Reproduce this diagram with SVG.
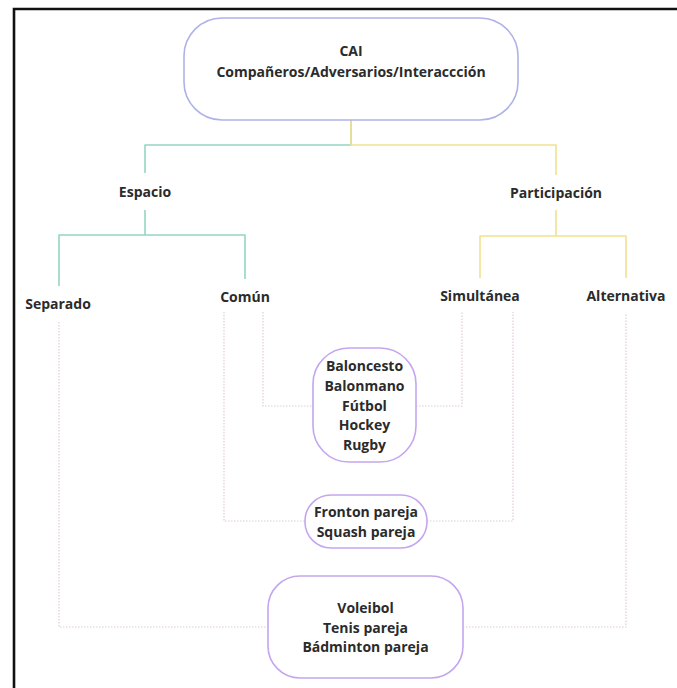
<svg xmlns="http://www.w3.org/2000/svg" width="677" height="688" viewBox="0 0 677 688">
<style>
.t{font-family:"Open Sans","Noto Sans","Liberation Sans",sans-serif;font-weight:bold;font-size:14px;fill:#2b2b2b;text-anchor:middle}
.box{fill:#fff;stroke:#c4a6ee;stroke-width:1.6}
.top{fill:#fff;stroke:#aeb2e8;stroke-width:1.6}
.g{fill:none;stroke:#95d5c4;stroke-width:1.6;stroke-linejoin:round}
.y{fill:none;stroke:#f3e08f;stroke-width:1.6;stroke-linejoin:round}
.d{fill:none;stroke:#e0cbdc;stroke-width:1.2;stroke-dasharray:1.5 1.5}
</style>
<rect width="677" height="688" fill="#fff"/>
<path d="M14 688 V9 H677" fill="none" stroke="#111" stroke-width="2.6"/>
<g id="connectors">
<path class="g" d="M351 120 V145 H145 V173"/>
<path class="y" d="M351 120 V145 H556 V175"/>
<path class="g" d="M145 210 V235 M59 286 V235 H245 V279"/>
<path class="y" d="M556 210 V236 M480 278 V236 H626 V278"/>
<path class="d" d="M263 312 V406 H313 M416 406 H462 V312"/>
<path class="d" d="M224 312 V521 H305 M427 521 H513 V312"/>
<path class="d" d="M59 322 V627 H268 M463 627 H626 V313"/>
</g>
<g id="cai">
<rect class="top" x="184" y="18" width="334" height="102" rx="38"/>
<text class="t" x="351" y="56">CAI</text>
<text class="t" x="351" y="77">Compañeros/Adversarios/Interaccción</text>
</g>
<g id="espacio"><text class="t" x="145" y="197">Espacio</text></g>
<g id="participacion"><text class="t" x="556" y="198">Participación</text></g>
<g id="separado"><text class="t" x="58" y="309">Separado</text></g>
<g id="comun"><text class="t" x="245" y="302">Común</text></g>
<g id="simultanea"><text class="t" x="480" y="301">Simultánea</text></g>
<g id="alternativa"><text class="t" x="626" y="301">Alternativa</text></g>
<g id="equipos">
<rect class="box" x="313" y="348" width="103" height="114" rx="36"/>
<text class="t" x="364.5" y="371">Baloncesto</text>
<text class="t" x="364.5" y="391">Balonmano</text>
<text class="t" x="364.5" y="411">Fútbol</text>
<text class="t" x="364.5" y="430">Hockey</text>
<text class="t" x="364.5" y="450">Rugby</text>
</g>
<g id="pared">
<rect class="box" x="305" y="495" width="122" height="53" rx="26"/>
<text class="t" x="366" y="517">Fronton pareja</text>
<text class="t" x="366" y="537">Squash pareja</text>
</g>
<g id="red">
<rect class="box" x="268" y="576" width="195" height="102" rx="32"/>
<text class="t" x="365.5" y="613">Voleibol</text>
<text class="t" x="365.5" y="633">Tenis pareja</text>
<text class="t" x="365.5" y="652">Bádminton pareja</text>
</g>
</svg>
